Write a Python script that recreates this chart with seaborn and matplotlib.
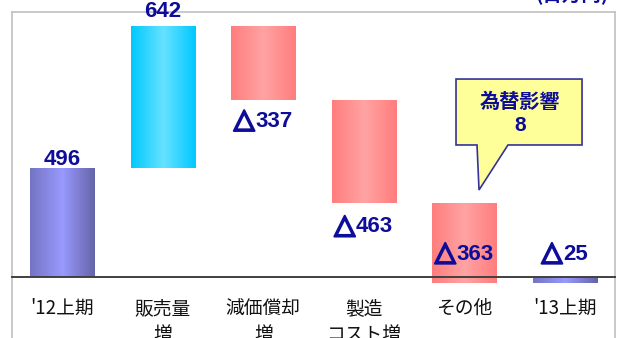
import numpy as np
import pandas as pd
import matplotlib
matplotlib.use("Agg")
import matplotlib.pyplot as plt
import matplotlib.patheffects as pe
import seaborn as sns
from matplotlib.colors import LinearSegmentedColormap
from matplotlib.patches import Polygon

# ---------------- data ----------------
categories = ["'12上期", "販売量\n増", "減価償却\n増", "製造\nコスト増", "その他", "'13上期"]
changes = [496, 642, -337, -463, -363, -25]
kinds = ["total", "up", "down", "down", "down", "total"]
value_labels = ["496", "642", "△337", "△463", "△363", "△25"]
fx_title = "為替影響"
fx_value = 8
unit_label = "(百万円)"

# ---------------- style ----------------
sns.set_theme(style="white")
plt.rcParams['font.family'] = ['Liberation Sans', 'Noto Sans CJK JP', 'DejaVu Sans']
CJK = ['Noto Sans CJK JP', 'DejaVu Sans']
NUM = ['Liberation Sans', 'DejaVu Sans']
LABEL_COLOR = "#0d0d99"

# waterfall bottoms / heights from the data
bottoms, heights = [], []
running = 0
for v, k in zip(changes, kinds):
    if k == "total":
        bottoms.append(0)
        heights.append(v)
        running = v
    else:
        bottoms.append(running)
        heights.append(v)
        running += v

W, H = 622, 338
fig = plt.figure(figsize=(W / 100, H / 100), dpi=100)
fig.patch.set_facecolor("white")
ax = fig.add_axes([12 / W, 1 - 360 / H, (615 - 12) / W, (360 - 12) / H])

df = pd.DataFrame({"cat": categories, "h": heights})
sns.barplot(data=df, x="cat", y="h", order=categories, bottom=bottoms,
            width=0.64, color="#9999ff", linewidth=0, errorbar=None, ax=ax)

# gradient fills clipped to each bar
grad_colors = {
    "total": ["#7474c4", "#9999ff", "#6464a8"],
    "up": ["#00c8ff", "#66e2ff", "#00c8ff"],
    "down": ["#ff7d7d", "#ffa3a3", "#ff7d7d"],
}
grad = np.linspace(0, 1, 256).reshape(1, -1)
for patch, k in zip(list(ax.patches), kinds):
    x0, w = patch.get_x(), patch.get_width()
    y0, h = patch.get_y(), patch.get_height()
    cmap = LinearSegmentedColormap.from_list(k, grad_colors[k])
    im = ax.imshow(grad, cmap=cmap, aspect="auto", interpolation="bicubic",
                   extent=[x0, x0 + w, min(y0, y0 + h), max(y0, y0 + h)],
                   zorder=patch.get_zorder() + 0.1)
    im.set_clip_path(patch)

ax.set_xlim(-0.5, len(categories) - 0.5)
ax.set_ylim(-376, 1202)

# value labels ("△" drawn heavier, as in the reference)
renderer = fig.canvas.get_renderer()
offsets = [5.8, 10.8, -15.1, -17.6, 20.5, 20.5]
for i, (b, h, lab) in enumerate(zip(bottoms, heights, value_labels)):
    if lab.startswith("△"):
        tri, num = "△", lab[1:]
    else:
        tri, num = "", lab
    t_num = ax.annotate(num, xy=(i, b + h), xytext=(0, offsets[i]), textcoords="offset points",
                        ha="left", va="center", fontsize=16, fontweight="bold",
                        color=LABEL_COLOR, zorder=6, family=NUM)
    w_num = t_num.get_window_extent(renderer).width
    w_tri = 0.0
    t_tri = None
    if tri:
        t_tri = ax.annotate(tri, xy=(i, b + h), xytext=(0, offsets[i]), textcoords="offset points",
                            ha="right", va="center", fontsize=19.5, fontweight="bold",
                            color=LABEL_COLOR, zorder=6, family=['DejaVu Sans'],
                            path_effects=[pe.withStroke(linewidth=1.5, foreground=LABEL_COLOR)])
        w_tri = t_tri.get_window_extent(renderer).width
    shift = (w_tri - w_num) / 2 * 72 / 100
    t_num.xyann = (shift, offsets[i])
    if t_tri is not None:
        t_tri.xyann = (shift - 0.3, offsets[i] + 0.6)

# axes styling
for s in ["left", "right", "top"]:
    ax.spines[s].set_color("#c0c0c0")
    ax.spines[s].set_linewidth(1.2)
ax.spines["bottom"].set_position(("data", 0))
ax.spines["bottom"].set_color("#404040")
ax.spines["bottom"].set_linewidth(1.4)
ax.spines["bottom"].set_zorder(4)
ax.set_yticks([])
ax.set_xlabel("")
ax.set_ylabel("")
ax.set_xticks(range(len(categories)))
ax.set_xticklabels(categories, fontsize=13.5, family=CJK, color="#111111", linespacing=1.3)
ax.tick_params(axis="x", which="major", length=0, pad=15)
ax.set_xticks([i + 0.5 for i in range(len(categories) - 1)], minor=True)
ax.tick_params(axis="x", which="minor", direction="in", length=5, width=1, color="#404040")

# callout (exchange-rate effect)
callout = Polygon([(3.918, 898), (5.172, 898), (5.172, 599), (4.435, 599),
                   (4.147, 395), (4.127, 599), (3.918, 599)], closed=True,
                  facecolor="#ffff99", edgecolor="#333399", linewidth=1.2, zorder=5)
ax.add_patch(callout)
ax.text(4.555, 794, fx_title, ha="center", va="center", fontsize=14.5, fontweight="bold",
        color=LABEL_COLOR, family=CJK, zorder=6)
ax.text(4.555, 689, str(fx_value), ha="center", va="center", fontsize=15, fontweight="bold",
        color=LABEL_COLOR, zorder=6)

fig.text(572 / W, 1, unit_label, ha="center", va="baseline", fontsize=14,
         fontweight="bold", color=LABEL_COLOR, family=CJK)

fig.savefig("out.png", dpi=100)
